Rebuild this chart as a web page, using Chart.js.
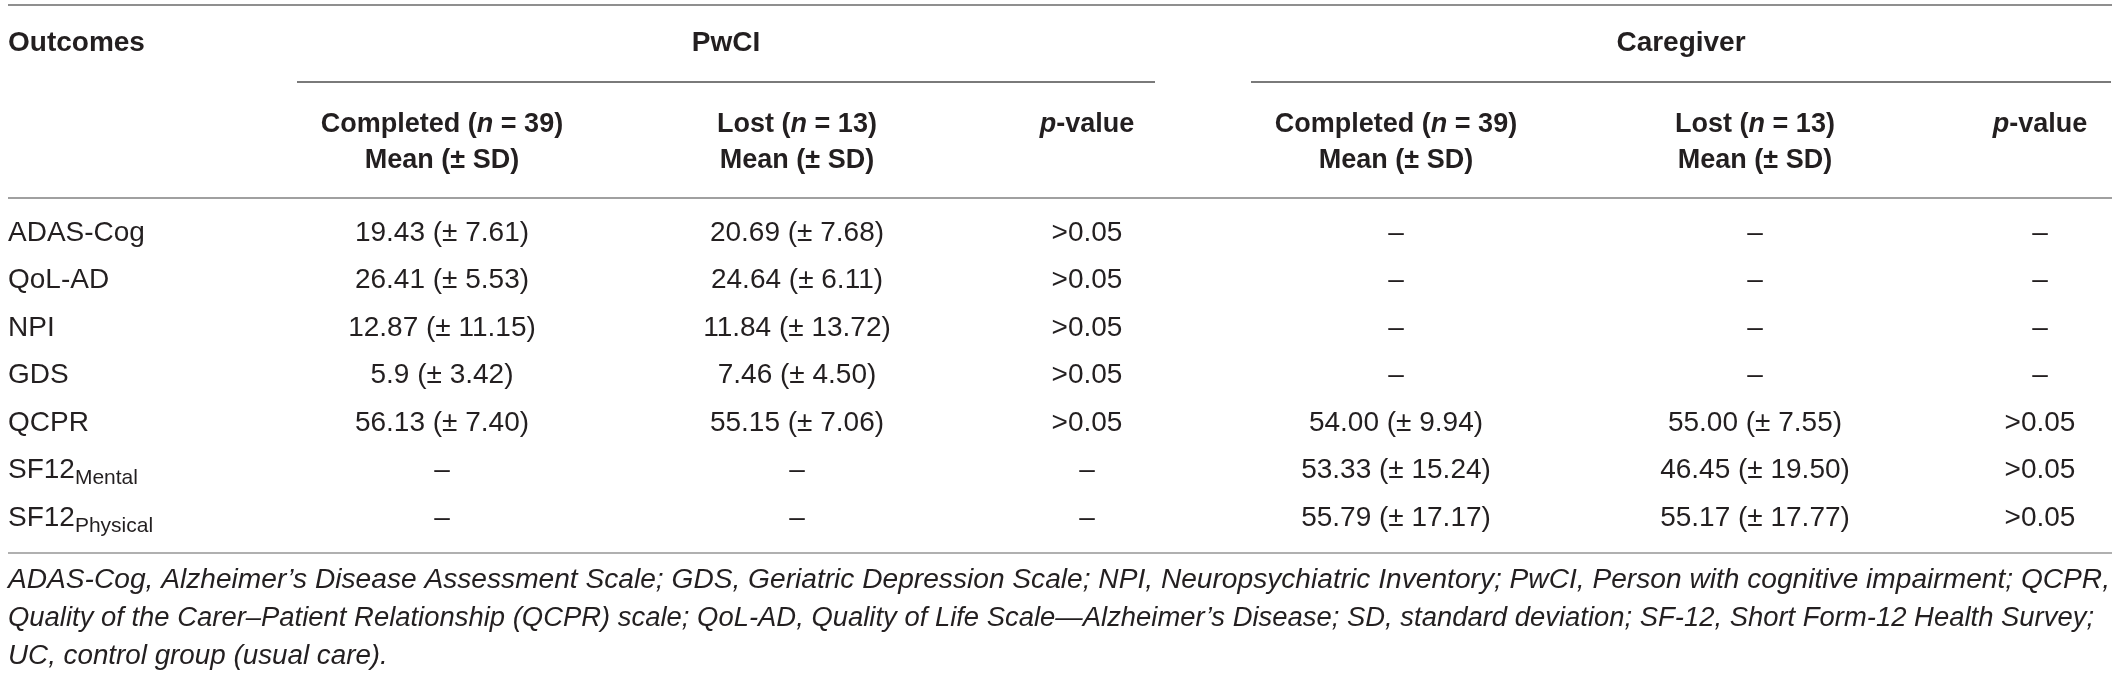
<!DOCTYPE html>
<html>
<head>
<meta charset="utf-8">
<script src="https://cdn.jsdelivr.net/npm/chart.js@4.4.1/dist/chart.umd.min.js"></script>
<style>
html, body { margin: 0; padding: 0; background: #fff; }
#wrap { width: 2120px; height: 676px; position: relative; }
</style>
</head>
<body>
<div id="wrap"><canvas id="myChart"></canvas></div>
<script>
// rows
const outcomes = ['ADAS-Cog', 'QoL-AD', 'NPI', 'GDS', 'QCPR', 'SF12', 'SF12'];
const outcomeSub = [null, null, null, null, null, 'Mental', 'Physical'];

// PwCI
const pwciCompletedMean = ['19.43', '26.41', '12.87', '5.9', '56.13', null, null];
const pwciCompletedSD   = ['7.61', '5.53', '11.15', '3.42', '7.40', null, null];
const pwciLostMean      = ['20.69', '24.64', '11.84', '7.46', '55.15', null, null];
const pwciLostSD        = ['7.68', '6.11', '13.72', '4.50', '7.06', null, null];
const pwciP             = ['>0.05', '>0.05', '>0.05', '>0.05', '>0.05', null, null];

// Caregiver
const cgCompletedMean = [null, null, null, null, '54.00', '53.33', '55.79'];
const cgCompletedSD   = [null, null, null, null, '9.94', '15.24', '17.17'];
const cgLostMean      = [null, null, null, null, '55.00', '46.45', '55.17'];
const cgLostSD        = [null, null, null, null, '7.55', '19.50', '17.77'];
const cgP             = [null, null, null, null, '>0.05', '>0.05', '>0.05'];

const groups = ['PwCI', 'Caregiver'];
const footnotes = [
    'ADAS-Cog, Alzheimer\u2019s Disease Assessment Scale; GDS, Geriatric Depression Scale; NPI, Neuropsychiatric Inventory; PwCI, Person with cognitive impairment; QCPR,',
    'Quality of the Carer\u2013Patient Relationship (QCPR) scale; QoL-AD, Quality of Life Scale\u2014Alzheimer\u2019s Disease; SD, standard deviation; SF-12, Short Form-12 Health Survey;',
    'UC, control group (usual care).'
];

// layout (x scale units = pixels)
const COL_X = [8, 442, 797, 1087, 1396, 1755, 2040];
const GROUP_SPAN = [[297, 1155], [1251, 2111]];
const FOOT_WIDTH = [2102, 2086, null];
const FONT = "'Liberation Sans', Arial, sans-serif";
const INK = '#231f20';

const rowKeys = outcomes.map((o, i) => outcomeSub[i] ? o + ' ' + outcomeSub[i] : o);
const DASH = '\u2013';

function meanSd(m, s) {
    return m === null ? DASH : m + ' (\u00b1 ' + s + ')';
}
const columns = [
    rowKeys.map(() => ''),
    pwciCompletedMean.map((m, i) => meanSd(m, pwciCompletedSD[i])),
    pwciLostMean.map((m, i) => meanSd(m, pwciLostSD[i])),
    pwciP.map(p => p === null ? DASH : p),
    cgCompletedMean.map((m, i) => meanSd(m, cgCompletedSD[i])),
    cgLostMean.map((m, i) => meanSd(m, cgLostSD[i])),
    cgP.map(p => p === null ? DASH : p)
];

function font(italic, bold, size) {
    return (italic ? 'italic ' : '') + (bold ? 'bold ' : '') + size + 'px ' + FONT;
}

function drawRich(ctx, parts, x, y, align, size, bold) {
    let w = 0;
    parts.forEach(p => { ctx.font = font(p[1], bold, size); w += ctx.measureText(p[0]).width; });
    let cx = align === 'center' ? x - w / 2 : x;
    ctx.textAlign = 'left';
    parts.forEach(p => {
        ctx.font = font(p[1], bold, size);
        ctx.fillText(p[0], cx, y);
        cx += ctx.measureText(p[0]).width;
    });
}

function rule(ctx, y, x0, x1, color) {
    ctx.strokeStyle = color;
    ctx.lineWidth = 2;
    ctx.beginPath();
    ctx.moveTo(x0, y);
    ctx.lineTo(x1, y);
    ctx.stroke();
}

const tablePlugin = {
    id: 'table',
    afterDraw(chart) {
        const ctx = chart.ctx;
        const xs = chart.scales.x;
        const area = chart.chartArea;
        ctx.save();
        ctx.fillStyle = INK;
        ctx.textBaseline = 'middle';

        // rules
        rule(ctx, 5, 8, 2112, '#8f8f8f');
        rule(ctx, area.top - 11, 8, 2112, '#a0a0a0');
        rule(ctx, area.bottom + 11, 8, 2112, '#b0b0b0');
        GROUP_SPAN.forEach(s => rule(ctx, 82, xs.getPixelForValue(s[0]), xs.getPixelForValue(s[1]), '#7a7a7a'));

        // header row 1
        drawRich(ctx, [['Outcomes', false]], xs.getPixelForValue(COL_X[0]), 43, 'left', 28, true);
        groups.forEach((g, k) => {
            const mid = (xs.getPixelForValue(GROUP_SPAN[k][0]) + xs.getPixelForValue(GROUP_SPAN[k][1])) / 2;
            drawRich(ctx, [[g, false]], mid, 43, 'center', 28, true);
        });

        // header row 2
        [[1, 39, 'Completed'], [2, 13, 'Lost'], [4, 39, 'Completed'], [5, 13, 'Lost']].forEach(h => {
            const x = xs.getPixelForValue(COL_X[h[0]]);
            drawRich(ctx, [[h[2] + ' (', false], ['n', true], [' = ' + h[1] + ')', false]], x, 125, 'center', 27, true);
            drawRich(ctx, [['Mean (\u00b1 SD)', false]], x, 161, 'center', 27, true);
        });
        [3, 6].forEach(c => {
            drawRich(ctx, [['p', true], ['-value', false]], xs.getPixelForValue(COL_X[c]), 125, 'center', 27, true);
        });

        // body cells from dataset points
        chart.data.datasets.forEach((ds, d) => {
            const meta = chart.getDatasetMeta(d);
            meta.data.forEach((pt, i) => {
                if (d === 0) {
                    drawRich(ctx, [[outcomes[i], false]], pt.x, pt.y, 'left', 28, false);
                    if (outcomeSub[i]) {
                        ctx.font = font(false, false, 28);
                        const w = ctx.measureText(outcomes[i]).width;
                        drawRich(ctx, [[outcomeSub[i], false]], pt.x + w, pt.y + 8, 'left', 21, false);
                    }
                } else {
                    drawRich(ctx, [[columns[d][i], false]], pt.x, pt.y, 'center', 28, false);
                }
            });
        });

        // footnote, each line fitted to its width in the table
        ctx.font = font(true, false, 27);
        const fits = footnotes.map((line, k) => FOOT_WIDTH[k] ? FOOT_WIDTH[k] / ctx.measureText(line).width : null);
        const avg = (fits[0] + fits[1]) / 2;
        footnotes.forEach((line, k) => {
            ctx.save();
            ctx.translate(8, area.bottom + 38 + k * 38);
            ctx.scale(fits[k] || avg, 1);
            ctx.textAlign = 'left';
            ctx.fillText(line, 0, 0);
            ctx.restore();
        });
        ctx.restore();
    }
};

function drawChart() {
    const datasets = columns.map((col, c) => ({
        label: 'col' + c,
        data: rowKeys.map(k => ({ x: COL_X[c], y: k })),
        showLine: false,
        pointRadius: 0,
        pointHoverRadius: 0
    }));

    const config = {
        type: 'line',
        data: { labels: rowKeys, datasets: datasets },
        options: {
            responsive: true,
            maintainAspectRatio: false,
            animation: false,
            events: [],
            layout: { padding: { top: 209, bottom: 134, left: 0, right: 0 } },
            scales: {
                x: { type: 'linear', min: 0, max: 2120, display: false },
                y: { type: 'category', labels: rowKeys, offset: true, display: false }
            },
            plugins: {
                legend: { display: false },
                tooltip: { enabled: false }
            }
        },
        plugins: [tablePlugin]
    };

    new Chart(document.getElementById('myChart'), config);
}

window.onload = drawChart;
</script>
</body>
</html>
